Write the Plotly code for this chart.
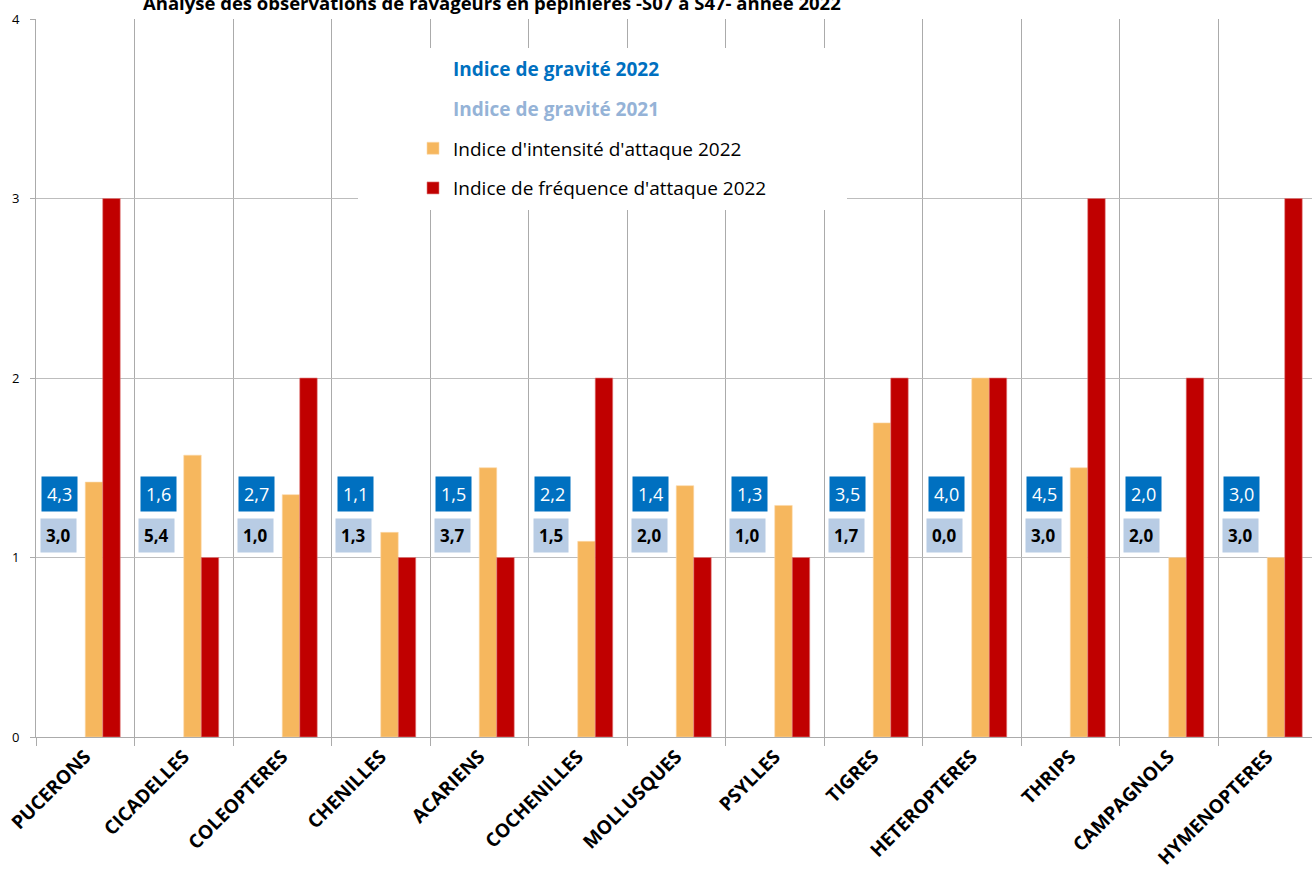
import plotly.graph_objects as go

# Pest categories observed in nurseries
categories = ["PUCERONS", "CICADELLES", "COLEOPTERES", "CHENILLES", "ACARIENS",
              "COCHENILLES", "MOLLUSQUES", "PSYLLES", "TIGRES", "HETEROPTERES",
              "THRIPS", "CAMPAGNOLS", "HYMENOPTERES"]

gravite_2022 = [4.3, 1.6, 2.7, 1.1, 1.5, 2.2, 1.4, 1.3, 3.5, 4.0, 4.5, 2.0, 3.0]
gravite_2021 = [3.0, 5.4, 1.0, 1.3, 3.7, 1.5, 2.0, 1.0, 1.7, 0.0, 3.0, 2.0, 3.0]
intensite_2022 = [1.42, 1.57, 1.35, 1.14, 1.50, 1.09, 1.40, 1.29, 1.75, 2.00, 1.50, 1.00, 1.00]
frequence_2022 = [3, 1, 2, 1, 1, 2, 1, 1, 2, 2, 3, 2, 3]

y_ticks = [0, 1, 2, 3, 4]

TITLE = "Analyse des observations de ravageurs en pépinières -S07 à S47- année 2022"

BLUE = "#0070C0"
LIGHT_BLUE = "#B8CCE4"
LIGHT_BLUE_TEXT = "#95B3D7"
ORANGE = "#F6B75E"
RED = "#C00000"
GRID = "#ABABAB"
FONT = "Open Sans"

W, H = 1312, 871
L, R, T, B = 36, 0, 19, 134
plot_w = W - L - R
plot_h = H - T - B
cat_px = 98.5


def fr(v):
    return f"{v:.1f}".replace(".", ",")


fig = go.Figure()

# The two severity series only carry labels: their bars stay transparent
fig.add_trace(go.Bar(
    x=categories, y=gravite_2022, marker_color="rgba(0,0,0,0)",
    marker_line_width=0,
    name=f"<span style='color:{BLUE}'><b>Indice de gravité 2022</b></span>",
    legendgroup="g22", hoverinfo="skip"))
fig.add_trace(go.Bar(
    x=categories, y=gravite_2021, marker_color="rgba(0,0,0,0)",
    marker_line_width=0,
    name=f"<span style='color:{LIGHT_BLUE_TEXT}'><b>Indice de gravité 2021</b></span>",
    legendgroup="g21", hoverinfo="skip"))
fig.add_trace(go.Bar(
    x=categories, y=intensite_2022, marker_color=ORANGE,
    marker_line=dict(color="#FBD9A8", width=0.6),
    name="Indice d'intensité d'attaque 2022", legendgroup="int"))
fig.add_trace(go.Bar(
    x=categories, y=frequence_2022, marker_color=RED,
    marker_line=dict(color="#E08080", width=0.6),
    name="Indice de fréquence d'attaque 2022", legendgroup="freq"))

# Severity labels drawn as boxed annotations on the left of each cluster
label_dx = -0.26
for i, cat in enumerate(categories):
    fig.add_annotation(
        x=i + label_dx, y=1.355, xref="x", yref="y", text=fr(gravite_2022[i]),
        showarrow=False, bgcolor=BLUE, borderpad=5,
        font=dict(family=FONT, size=18, color="white"))
    fig.add_annotation(
        x=i + label_dx - 0.015, y=1.125, xref="x", yref="y",
        text=f"<b>{fr(gravite_2021[i])}</b>",
        showarrow=False, bgcolor=LIGHT_BLUE, borderpad=5,
        font=dict(family=FONT, size=17, color="black"))

# Chart title (sits partly above the page edge)
fig.add_annotation(
    x=(492 - L) / plot_w, y=1 + (T - 3) / plot_h, xref="paper", yref="paper",
    text=f"<b>{TITLE}</b>", showarrow=False, yanchor="middle",
    font=dict(family=FONT, size=18.5, color="black"))

# White backing behind the legend hides the grid there
fig.add_shape(
    type="rect", xref="paper", yref="paper", layer="above",
    x0=(358 - L) / plot_w, x1=(847 - L) / plot_w,
    y0=(T + plot_h - 210) / plot_h, y1=(T + plot_h - 48) / plot_h,
    fillcolor="white", line_width=0)

fig.update_layout(
    width=W, height=H,
    margin=dict(l=L, r=R, t=T, b=B, pad=0),
    paper_bgcolor="white", plot_bgcolor="white",
    barmode="group", bargap=0.29, bargroupgap=0,
    font=dict(family=FONT, color="black"),
    showlegend=True,
    legend=dict(
        x=(413 - L) / plot_w, y=(T + plot_h - 50) / plot_h,
        xanchor="left", yanchor="top",
        bgcolor="rgba(0,0,0,0)", borderwidth=0,
        traceorder="grouped", tracegroupgap=12,
        font=dict(family=FONT, size=19, color="black"),
        itemclick=False, itemdoubleclick=False),
    xaxis=dict(
        type="category", range=[-0.5, -0.5 + plot_w / cat_px],
        tickson="boundaries", ticks="outside", ticklen=8, tickcolor=GRID,
        showgrid=True, gridcolor=GRID, gridwidth=1,
        showline=True, linecolor=GRID, linewidth=1,
        tickangle=-45, tickfont=dict(family=FONT, size=19, color="black", weight="bold"),
        fixedrange=True),
    yaxis=dict(
        range=[0, 4], tickvals=y_ticks, ticktext=[str(v) for v in y_ticks],
        ticks="outside", ticklen=5, tickcolor=GRID, ticklabelstandoff=8,
        showgrid=True, gridcolor="#BDBDBD", gridwidth=1,
        showline=True, linecolor=GRID, linewidth=1, zeroline=False,
        tickfont=dict(family=FONT, size=13, color="black"),
        fixedrange=True),
)

fig.write_html("out.html", config={"displayModeBar": False})
